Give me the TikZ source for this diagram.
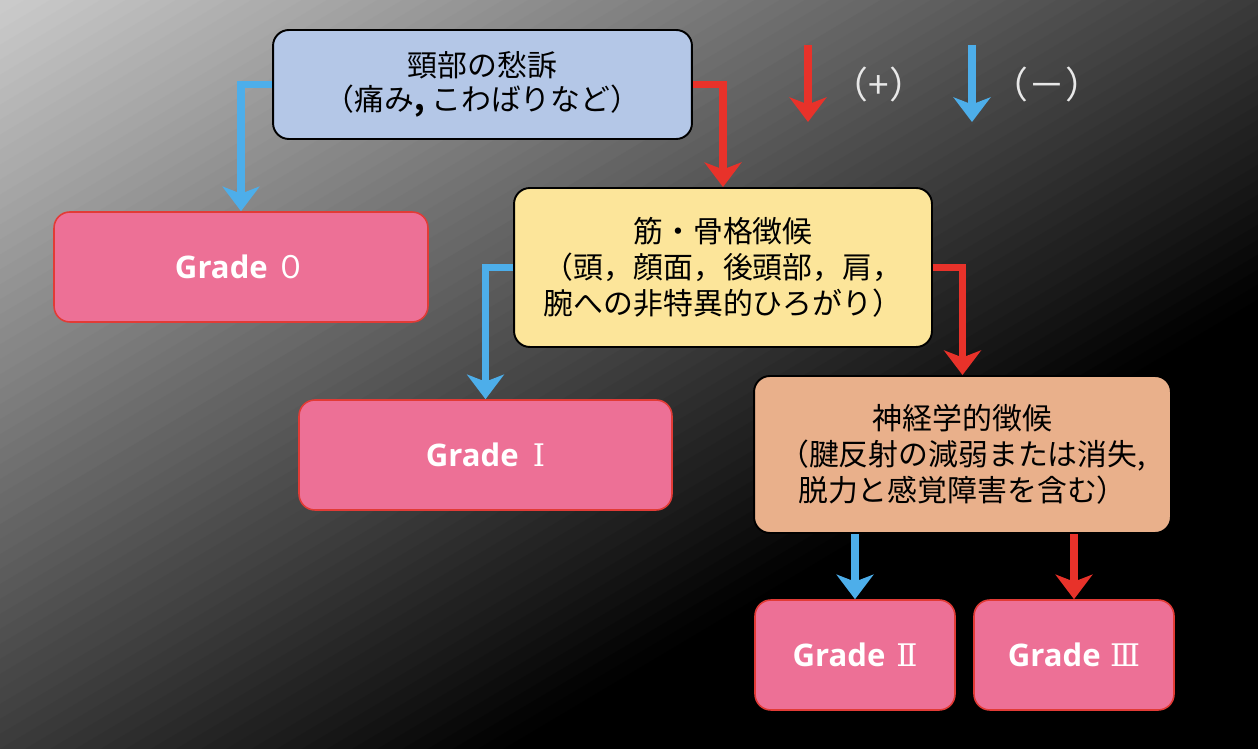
\documentclass[tikz,border=0pt]{standalone}
\usepackage{fontspec}
\newfontfamily\jpfont{Noto Sans CJK JP}
\newfontfamily\gradefont{Open Sans}
\newfontfamily\numfont{DejaVu Serif}
\usetikzlibrary{arrows.meta}
\definecolor{neck}{HTML}{B4C7E7}
\definecolor{musc}{HTML}{FCE59A}
\definecolor{neuro}{HTML}{E9B08B}
\definecolor{gradefill}{HTML}{ED7096}
\definecolor{gradeline}{HTML}{E23B36}
\definecolor{posarrow}{HTML}{E8322A}
\definecolor{negarrow}{HTML}{4DAEEA}
\definecolor{legendtext}{HTML}{E8E8E8}

\begin{document}
\begin{tikzpicture}[x=0.02cm,y=-0.02cm,
  symptom/.style={draw=black,line width=1.1pt,rounded corners=9pt,align=center,
    inner sep=0pt,font=\jpfont\fontsize{17}{20.5}\selectfont},
  gradebox/.style={draw=gradeline,fill=gradefill,line width=0.9pt,rounded corners=9pt,
    text=white,minimum height=2.2cm,font=\gradefont\bfseries\fontsize{17.7}{20}\selectfont},
  yesarrow/.style={posarrow,line width=4.5pt,-{Stealth[length=14pt,width=21pt,inset=4pt]}},
  noarrow/.style={negarrow,line width=4.5pt,-{Stealth[length=14pt,width=21pt,inset=4pt]}},
  legendlabel/.style={text=legendtext,font=\jpfont\fontsize{21}{24}\selectfont}]
  \useasboundingbox (0,0) rectangle (1258,749);

  % Background: grey to black, corner to corner
  \begin{scope}
    \clip (0,0) rectangle (1258,749);
    \foreach \i in {0,...,69} {
      \pgfmathsetmacro\sa{\i/50}
      \pgfmathsetmacro\lv{80*(1-(\i+0.5)/70)}
      \fill[white!\lv!black] ({\sa*1258},0) -- (2642,0) -- (0,1573) -- (0,{\sa*749}) -- cycle;
    }
    \fill[black] (1761,0) -- (2642,0) -- (0,1573) -- (0,1049) -- cycle;
  \end{scope}

  % Symptom boxes
  \node[symptom,fill=neck,minimum width=8.38cm,minimum height=2.18cm,
    font=\jpfont\fontsize{17}{19}\selectfont] (neck) at (482.5,84.5)
    {頸部の愁訴\\（痛み{\bfseries,} こわばりなど）};
  \node[symptom,fill=musc,minimum width=8.36cm,minimum height=3.18cm] (musc) at (723,267.5)
    {筋・骨格徴候\\（頭，顔面，後頭部，肩，\\腕への非特異的ひろがり）};
  \node[symptom,fill=neuro,minimum width=8.34cm,minimum height=3.14cm] (neuro) at (962.5,454.5)
    {神経学的徴候\\（腱反射の減弱または消失,\\脱力と感覚障害を含む）};

  % Grade boxes
  \node[gradebox,minimum width=7.48cm] (g0) at (241,267) {Grade {\jpfont\mdseries ０}};
  \node[gradebox,minimum width=7.46cm] (g1) at (485.5,455) {Grade\hspace{0.45em}{\numfont\mdseries Ⅰ}};
  \node[gradebox,minimum width=4cm] (g2) at (855,655) {Grade\hspace{0.35em}{\numfont\mdseries Ⅱ}};
  \node[gradebox,minimum width=4cm] (g3) at (1074,655) {Grade\hspace{0.3em}{\numfont\mdseries Ⅲ}};

  % Branches
  \draw[noarrow] (neck.west) -| (g0.north);
  \draw[yesarrow] (neck.east) -| (musc.north);
  \draw[noarrow] (musc.west) -| (g1.north);
  \draw[yesarrow] (musc.east) -| (neuro.north);
  \draw[noarrow] (neuro.south -| g2.north) -- (g2.north);
  \draw[yesarrow] (neuro.south -| g3.north) -- (g3.north);

  % Legend
  \coordinate (posA) at (808,45);
  \coordinate (posB) at (808,122);
  \coordinate (negA) at (972,45);
  \coordinate (negB) at (972,122);
  \draw[yesarrow] (posA) -- (posB);
  \draw[noarrow] (negA) -- (negB);
  \node[legendlabel] (posl) at (879,84) {（+）};
  \node[legendlabel] (negl) at (1047,84) {（－）};
\end{tikzpicture}
\end{document}
